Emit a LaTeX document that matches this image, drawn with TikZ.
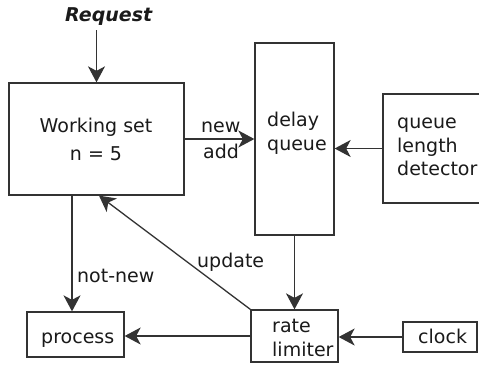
\documentclass[tikz,border=0pt]{standalone}
\usepackage{fontspec}
\setmainfont{DejaVu Sans}
\usetikzlibrary{arrows.meta}
\definecolor{ink}{HTML}{1A1A1A}
\definecolor{edge}{HTML}{333333}
\tikzset{
  box/.style={draw=edge, line width=1.3pt, rectangle, inner sep=0pt},
  txt/.style={inner sep=0pt, text=ink, font=\fontsize{19}{23.5}\selectfont},
  arr/.style={draw=edge, line width=1.3pt,
    -{Stealth[length=16pt, width=17pt, inset=4.5pt]}},
}
\begin{document}
\begin{tikzpicture}[x=1pt, y=-1pt]
  \clip (0,0) rectangle (479,365);
  \fill[white] (0,0) rectangle (479,365);

  % boxes
  \node[box, minimum width=175pt, minimum height=112pt] (ws)  at (96.5,139) {};
  \node[box, minimum width=79pt,  minimum height=192pt] (dq)  at (294.5,139) {};
  \node[box, minimum width=117pt, minimum height=109pt] (qld) at (441.5,148.5) {};
  \node[box, minimum width=97pt,  minimum height=45pt]  (proc) at (75.5,334.5) {};
  \node[box, minimum width=87pt,  minimum height=52pt]  (rl)  at (294.5,336) {};
  \node[box, minimum width=74pt,  minimum height=30pt]  (clk) at (440,337) {};

  % box texts
  \node[txt, anchor=north, align=center,
        font=\fontsize{19}{28}\selectfont] (wst) at (96,118) {Working set\\n = 5};
  \node[txt, anchor=north west, align=left] (dqt)  at (267,112) {delay\\queue};
  \node[txt, anchor=north west, align=left] (qldt) at (397,118) {queue\\length\\detector};
  \node[txt, anchor=north west, align=left] (rlt)  at (272,319) {rate\\limiter};
  \node[txt, anchor=base west] (proct) at (41,343) {process};
  \node[txt, anchor=base west] (clkt)  at (418,343) {clock};

  % input label
  \node[txt, anchor=base west, font=\fontsize{19}{23.5}\selectfont\bfseries\itshape]
    (req) at (65,21) {Request};

  % edge labels
  \node[txt, anchor=base west] (lnew)    at (201,132) {new};
  \node[txt, anchor=base west] (ladd)    at (203,158) {add};
  \node[txt, anchor=base west] (lupdate) at (197,267) {update};
  \node[txt, anchor=base west] (lnotnew) at (77,282)  {not-new};

  % helper columns for the vertical connectors
  \coordinate (nncol) at (72,0);
  \coordinate (upcol) at (99,0);

  % connectors
  \draw[arr] ([yshift=-5pt]req.south -| ws.north) -- (ws.north);
  \draw[arr] (ws.east) -- (ws.east -| dq.west);
  \draw[arr] (qld.west) -- (qld.west -| dq.east);
  \draw[arr] (dq.south) -- (rl.north);
  \draw[arr] (clk.west) -- (clk.west -| rl.east);
  \draw[arr] (rl.west) -- (rl.west -| proc.east);
  \draw[arr] (ws.south -| nncol) -- (proc.north -| nncol);
  \draw[arr] (rl.north west) -- (ws.south -| upcol);
\end{tikzpicture}
\end{document}
